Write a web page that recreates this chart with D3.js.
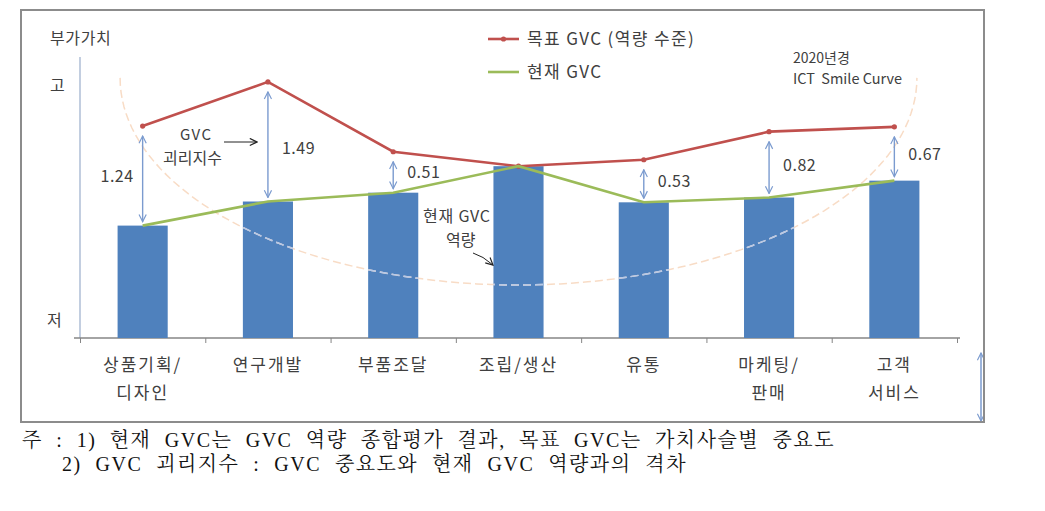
<!DOCTYPE html>
<html><head><meta charset="utf-8">
<script src="https://cdn.jsdelivr.net/npm/d3@7"></script>
<style>
html,body{margin:0;padding:0;background:#fff;}
svg{display:block;}
.sans{font-family:"Noto Sans CJK KR","Malgun Gothic",sans-serif;fill:#404040;}
</style></head>
<body>
<svg id="c" width="1045" height="511"></svg>
<script>
// ---- data ----
const categories = [["상품기획/","디자인"],["연구개발"],["부품조달"],["조립/생산"],["유통"],["마케팅/","판매"],["고객","서비스"]];
const currentGVC = [3.40, 3.70, 3.81, 4.14, 3.69, 3.75, 3.96];
const gapIndex   = [1.24, 1.49, 0.51, 0.00, 0.53, 0.82, 0.67];
const targetGVC  = [4.64, 5.19, 4.32, 4.14, 4.22, 4.57, 4.63];
const gapLabels  = ["1.24","1.49","0.51","","0.53","0.82","0.67"];
const yDomain = [2.0, 5.5];
// smile curve (half ellipse): centre category index, half-width in categories, top & bottom values
const smileCentre = 3, smileHalfWidth = 3.18, smileTop = 5.24, smileBottom = 2.66;
const legendItems = ["목표 GVC (역량 수준)", "현재 GVC"];
const footnotes = ["주 : 1) 현재 GVC는 GVC 역량 종합평가 결과, 목표 GVC는 가치사슬별 중요도",
                   "2) GVC 괴리지수 : GVC 중요도와 현재 GVC 역량과의 격차"];

const svg = d3.select("#c");
const RED="#c0504d", GREEN="#9bbb59", BLUE="#4f81bd", ARW="#7b9bcf";

const x = d3.scaleBand().domain(d3.range(categories.length)).range([80,957]).paddingInner(0.6).paddingOuter(0.3);
const step = x.step();
const cx = i => x(i) + x.bandwidth()/2;
const xc = v => 80 + step*(v+0.5); // continuous category coordinate
const y = d3.scaleLinear().domain(yDomain).range([338,57]);

const defs = svg.append("defs");
function marker(id,color){
  defs.append("marker").attr("id",id).attr("viewBox","0 0 10 10").attr("refX",9).attr("refY",5)
    .attr("markerWidth",9).attr("markerHeight",9).attr("orient","auto-start-reverse").attr("markerUnits","userSpaceOnUse")
    .append("path").attr("d","M1,1 L9,5 L1,9").attr("fill","none").attr("stroke",color).attr("stroke-width",1.3);
}
marker("ab",ARW); marker("ak","#222");

// stray arrow at right edge
svg.append("line").attr("x1",981).attr("x2",981).attr("y1",353).attr("y2",421)
  .attr("stroke",ARW).attr("stroke-width",1.5).attr("marker-start","url(#ab)").attr("marker-end","url(#ab)");

// axes
svg.append("line").attr("x1",80).attr("x2",80).attr("y1",y(yDomain[1])).attr("y2",y(yDomain[0]))
  .attr("stroke","#9aaecb").attr("stroke-width",1.2);
const xAxis = d3.axisBottom(d3.scaleLinear().domain([0,categories.length]).range([80,957]))
  .tickValues(d3.range(categories.length+1)).tickSize(5).tickFormat("");
const gx = svg.append("g").attr("transform",`translate(0,${y(yDomain[0])})`).call(xAxis);
gx.selectAll("path").attr("stroke","#868686").attr("stroke-width",1.3).attr("d","M74,0H960");
gx.selectAll("line").attr("stroke","#868686");

// bars
svg.append("g").selectAll("rect").data(currentGVC).join("rect")
  .attr("x",(d,i)=>x(i)).attr("width",x.bandwidth())
  .attr("y",d=>y(d)).attr("height",d=>y(yDomain[0])-y(d)).attr("fill",BLUE);

// smile curve
const smilePts = d3.range(0,181,2).map(a=>{
  const t = a*Math.PI/180;
  return [xc(smileCentre - smileHalfWidth*Math.cos(t)), y(smileTop - (smileTop-smileBottom)*Math.sin(t))];
});
const sline = d3.line();
svg.append("path").attr("d",sline(smilePts)).attr("fill","none").attr("stroke","#f8dcc6")
  .attr("stroke-width",1.5).attr("stroke-dasharray","8,4");
const clip = defs.append("clipPath").attr("id","barclip");
clip.selectAll("rect").data(currentGVC).join("rect")
  .attr("x",(d,i)=>x(i)).attr("width",x.bandwidth()).attr("y",d=>y(d)).attr("height",d=>y(yDomain[0])-y(d));
svg.append("path").attr("d",sline(smilePts)).attr("fill","none").attr("stroke","#b7c9e8")
  .attr("stroke-width",1.5).attr("stroke-dasharray","8,4").attr("clip-path","url(#barclip)");

// lines
const ln = d3.line().x((d,i)=>cx(i)).y(d=>y(d));
svg.append("path").attr("d",ln(targetGVC)).attr("fill","none").attr("stroke",RED).attr("stroke-width",2.6);
svg.append("g").selectAll("circle").data(targetGVC).join("circle")
  .attr("cx",(d,i)=>cx(i)).attr("cy",d=>y(d)).attr("r",2.6).attr("fill",RED);
svg.append("path").attr("d",ln(currentGVC)).attr("fill","none").attr("stroke",GREEN).attr("stroke-width",2.6);

// gap arrows and labels
gapIndex.forEach((g,i)=>{
  if(g<=0) return;
  const yt = y(targetGVC[i]) + 10, yb = y(currentGVC[i]) - 4;
  svg.append("line").attr("x1",cx(i)).attr("x2",cx(i)).attr("y1",yt).attr("y2",yb)
    .attr("stroke",ARW).attr("stroke-width",1.4).attr("marker-start","url(#ab)").attr("marker-end","url(#ab)");
  const mid = (y(targetGVC[i]) + y(currentGVC[i]))/2 + 6;
  const left = i===0;
  svg.append("text").attr("class","sans").attr("x",cx(i)+(left?-9:14)).attr("y",mid+(i===1?6:0))
    .attr("text-anchor",left?"end":"start").attr("font-size",16).attr("letter-spacing",0.5).text(gapLabels[i]);
});

// category labels
categories.forEach((c,i)=>{
  c.forEach((s,k)=>{
    svg.append("text").attr("class","sans").attr("x",cx(i)).attr("y",371+k*28)
      .attr("text-anchor","middle").attr("font-size",17).attr("letter-spacing",2).text(s);
  });
});

// axis texts
svg.append("text").attr("class","sans").attr("x",50).attr("y",44).attr("font-size",16).attr("letter-spacing",0.6).text("부가가치");
svg.append("text").attr("class","sans").attr("x",50).attr("y",91).attr("font-size",16).text("고");
svg.append("text").attr("class","sans").attr("x",47).attr("y",326).attr("font-size",16).text("저");

// legend
[[RED,39],[GREEN,72]].forEach(([col,ly],k)=>{
  svg.append("line").attr("x1",488).attr("x2",519).attr("y1",ly).attr("y2",ly).attr("stroke",col).attr("stroke-width",2.6);
  if(k===0) svg.append("circle").attr("cx",503.5).attr("cy",ly).attr("r",2.6).attr("fill",col);
  svg.append("text").attr("class","sans").attr("x",527).attr("y",ly+6).attr("font-size",17).attr("letter-spacing",1.4).text(legendItems[k]);
});
svg.append("text").attr("class","sans").attr("x",793).attr("y",63).attr("font-size",14).text("2020년경");
svg.append("text").attr("class","sans").attr("x",793).attr("y",84).attr("font-size",14)
  .attr("textLength",109).attr("lengthAdjust","spacingAndGlyphs").attr("xml:space","preserve").text("ICT  Smile Curve");

// annotations
svg.append("text").attr("class","sans").attr("x",180).attr("y",140).attr("font-size",15).attr("letter-spacing",1.5).text("GVC");
svg.append("text").attr("class","sans").attr("x",163).attr("y",164).attr("font-size",16).text("괴리지수");
svg.append("line").attr("x1",224).attr("x2",257).attr("y1",142).attr("y2",142).attr("stroke","#222").attr("stroke-width",1)
  .attr("marker-end","url(#ak)");
svg.append("text").attr("class","sans").attr("x",423).attr("y",222).attr("font-size",16).attr("letter-spacing",0.8).text("현재 GVC");
svg.append("text").attr("class","sans").attr("x",446).attr("y",246).attr("font-size",16).text("역량");
svg.append("path").attr("d","M473,253 Q483,256 493,265").attr("fill","none").attr("stroke","#222").attr("stroke-width",1)
  .attr("marker-end","url(#ak)");

// border
svg.append("rect").attr("x",21).attr("y",10).attr("width",963).attr("height",412)
  .attr("fill","none").attr("stroke","#8c8c8c").attr("stroke-width",2);

// footnotes: fit widths with letter + word spacing
[[footnotes[0],22,447,813],[footnotes[1],62,471,625]].forEach(([t,fx,fy,w])=>{
  const el = svg.append("text").attr("x",fx).attr("y",fy).attr("font-size",20).attr("fill","#111")
    .attr("letter-spacing",1.5)
    .attr("font-family",'"Liberation Serif","Noto Serif CJK KR","Noto Sans CJK KR",serif').text(t);
  const nat = el.node().getComputedTextLength();
  const spaces = (t.match(/ /g)||[]).length;
  el.attr("word-spacing", Math.max(0,(w-nat)/spaces));
});
</script>
</body></html>
